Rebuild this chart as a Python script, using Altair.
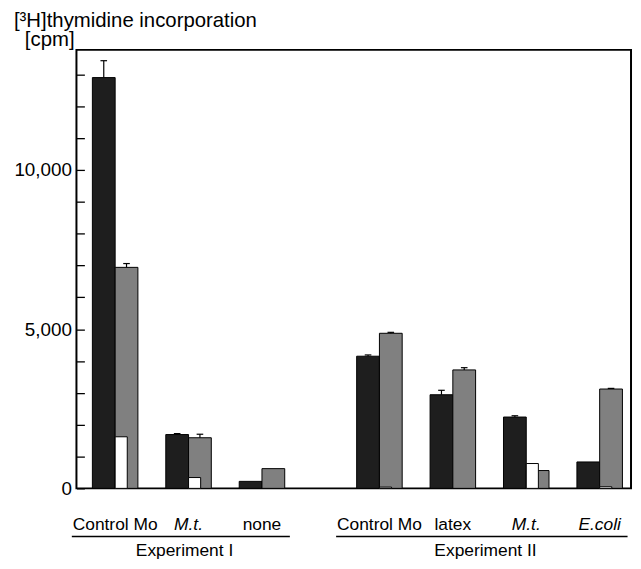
import altair as alt
import pandas as pd

# ---- data ----
groups = ["Control Mo", "M.t.", "none", "Control Mo", "latex", "M.t.", "E.coli"]
experiments = ["Experiment I"] * 3 + ["Experiment II"] * 4
italic = [False, True, False, False, False, True, True]
dark = [12900, 1690, 220, 4150, 2940, 2240, 830]
dark_err = [530, 30, 0, 40, 140, 40, 0]
white = [1620, 340, 0, 40, 0, 780, 50]
cross = [6940, 1590, 620, 4870, 3720, 560, 3120]
cross_err = [120, 110, 0, 30, 70, 0, 20]
y_ticks = list(range(0, 14000, 1000))
title_line1 = "[\u00b3H]thymidine incorporation"
title_line2 = "[cpm]"

# ---- layout helpers ----
FONT = "Liberation Sans"
W = 0.31          # bar width in slot units
GAP = 0.6         # extra space between experiments
exp_order = ["Experiment I", "Experiment II"]
slots = [i + GAP * exp_order.index(e) for i, e in enumerate(experiments)]

df = pd.DataFrame({
    "group": groups, "exp": experiments, "italic": italic, "slot": slots,
    "dark": dark, "dark_err": dark_err, "white": white,
    "cross": cross, "cross_err": cross_err,
})

exp_df = (df.groupby("exp", sort=False)["slot"].agg(["min", "max"]).reset_index())
exp_df["x1"] = exp_df["min"] - 0.59
exp_df["x2"] = exp_df["max"] + 0.38
exp_df["mid"] = (exp_df["x1"] + exp_df["x2"]) / 2 + 0.05

xs = alt.Scale(domain=[-0.527, 7.027], nice=False, zero=False)
ys = alt.Scale(domain=[0, 13770], nice=False, zero=True)

yaxis = alt.Axis(
    values=y_ticks,
    labelExpr="datum.value % 5000 === 0 ? format(datum.value, ',') : ''",
    labelOverlap=False, labelBound=False,
    offset=-8, tickSize=8, domain=False, grid=False, labelPadding=5,
    labelFont=FONT, labelFontSize=19, labelColor="black",
    tickColor="black", tickWidth=1.3, ticks=True, title=None,
)

def Y(field):
    return alt.Y(field, scale=ys, axis=yaxis)

def X(field):
    return alt.X(field, scale=xs, axis=None)

base = alt.Chart(df)

dark_bars = base.transform_calculate(
    x1=f"datum.slot - {W}", x2="datum.slot"
).mark_rect(fill="#1e1e1e", stroke="black", strokeWidth=1).encode(
    x=X("x1:Q"), x2="x2:Q", y=Y("dark:Q"), y2=alt.datum(0),
)

cross_bars = base.transform_calculate(
    x1="datum.slot", x2=f"datum.slot + {W}"
).mark_rect(fill="#808080", stroke="black", strokeWidth=1).encode(
    x=X("x1:Q"), x2="x2:Q", y=Y("cross:Q"), y2=alt.datum(0),
)

white_bars = base.transform_filter("datum.white > 0").transform_calculate(
    x1="datum.slot", x2=f"datum.slot + {W / 2 + 0.01}"
).mark_rect(fill="white", stroke="black", strokeWidth=1).encode(
    x=X("x1:Q"), x2="x2:Q", y=Y("white:Q"), y2=alt.datum(0),
)

def err_layers(val, err, center_expr):
    src = base.transform_filter(f"datum.{err} > 0").transform_calculate(
        cx=center_expr, top=f"datum.{val} + datum.{err}",
        c1=f"({center_expr}) - 0.045", c2=f"({center_expr}) + 0.045",
    )
    stem = src.mark_rule(color="black", strokeWidth=1.2).encode(
        x=X("cx:Q"), y=Y(f"{val}:Q"), y2="top:Q")
    cap = src.mark_rule(color="black", strokeWidth=1.2).encode(
        x=X("c1:Q"), x2="c2:Q", y=Y("top:Q"))
    return stem + cap

dark_err_l = err_layers("dark", "dark_err", f"datum.slot - {W / 2}")
cross_err_l = err_layers("cross", "cross_err", f"datum.slot + {W / 2}")

lab_normal = base.transform_filter("!datum.italic").mark_text(
    font=FONT, fontSize=17.5, baseline="alphabetic", color="black"
).encode(x=X("slot:Q"), y=alt.value(484), text="group:N")

lab_italic = base.transform_filter("datum.italic").mark_text(
    font=FONT, fontSize=17.5, baseline="alphabetic", color="black",
    fontStyle="italic"
).encode(x=X("slot:Q"), y=alt.value(484), text="group:N")

ebase = alt.Chart(exp_df)
exp_lines = ebase.mark_rule(color="black", strokeWidth=1.3).encode(
    x=X("x1:Q"), x2="x2:Q", y=alt.value(490.5))
exp_text = ebase.mark_text(
    font=FONT, fontSize=17.5, baseline="alphabetic", color="black"
).encode(x=X("mid:Q"), y=alt.value(510), text="exp:N")

t_df = pd.DataFrame({"line": [title_line1, title_line2]})
title1 = alt.Chart(t_df).transform_filter(
    alt.datum.line == title_line1
).mark_text(font=FONT, fontSize=20.5, align="left", baseline="alphabetic",
            color="black").encode(
    x=alt.value(-63), y=alt.value(-23), text="line:N")
title2 = alt.Chart(t_df).transform_filter(
    alt.datum.line == title_line2
).mark_text(font=FONT, fontSize=20.5, align="left", baseline="alphabetic",
            color="black").encode(
    x=alt.value(-52), y=alt.value(-4), text="line:N")

chart = alt.layer(
    dark_bars, cross_bars, white_bars, dark_err_l, cross_err_l,
    lab_normal, lab_italic, exp_lines, exp_text, title1, title2,
).properties(
    width=559, height=442,
    padding={"left": 69, "top": 40, "right": 2, "bottom": 71},
    autosize=alt.AutoSizeParams(type="none"),
).configure_view(stroke="black", strokeWidth=2)

chart.save("out.html", embed_options={"renderer": "svg", "actions": False})
